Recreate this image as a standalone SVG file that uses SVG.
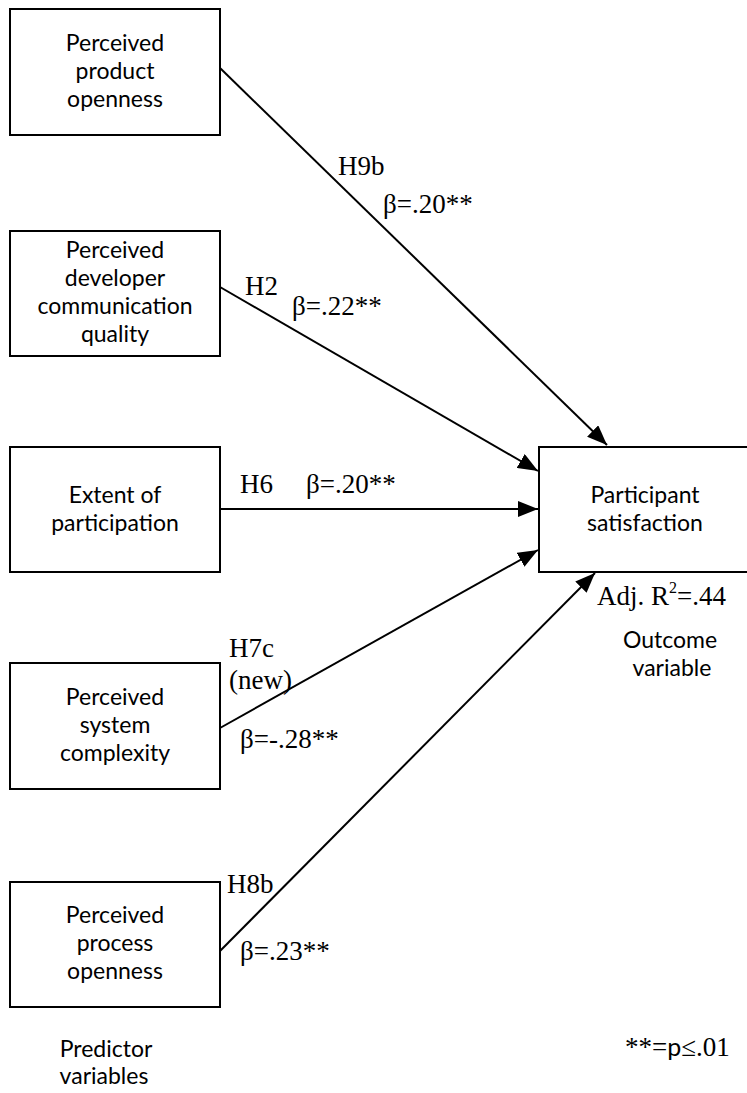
<svg xmlns="http://www.w3.org/2000/svg" width="747" height="1093" viewBox="0 0 747 1093">
  <style>
    .box { fill: #ffffff; stroke: #000000; stroke-width: 2; }
    .name { font-family: Lato, "Noto Sans", sans-serif; font-size: 23px; fill: #000000; text-anchor: middle; }
    .lbl { font-family: "Liberation Serif", "Times New Roman", serif; font-size: 27px; fill: #000000; }
    .edge { stroke: #000000; stroke-width: 2; fill: none; marker-end: url(#head); }
  </style>
  <defs>
    <marker id="head" markerUnits="userSpaceOnUse" markerWidth="20" markerHeight="16" refX="20" refY="8" orient="auto">
      <path d="M0,0 L20,8 L0,16 z" fill="#000000"/>
    </marker>
  </defs>
  <rect width="747" height="1093" fill="#ffffff"/>

  <!-- predictor boxes -->
  <g id="product-openness">
    <rect class="box" x="10" y="9" width="210" height="126"/>
    <text class="name" x="115" y="51">Perceived</text>
    <text class="name" x="115" y="79">product</text>
    <text class="name" x="115" y="107">openness</text>
  </g>
  <g id="developer-communication">
    <rect class="box" x="10" y="231" width="210" height="125"/>
    <text class="name" x="115" y="258">Perceived</text>
    <text class="name" x="115" y="286">developer</text>
    <text class="name" x="115" y="314">communication</text>
    <text class="name" x="115" y="342">quality</text>
  </g>
  <g id="participation">
    <rect class="box" x="10" y="447" width="210" height="125"/>
    <text class="name" x="115" y="503">Extent of</text>
    <text class="name" x="115" y="531">participation</text>
  </g>
  <g id="system-complexity">
    <rect class="box" x="10" y="663" width="210" height="126"/>
    <text class="name" x="115" y="705">Perceived</text>
    <text class="name" x="115" y="733">system</text>
    <text class="name" x="115" y="761">complexity</text>
  </g>
  <g id="process-openness">
    <rect class="box" x="10" y="882" width="210" height="125"/>
    <text class="name" x="115" y="923">Perceived</text>
    <text class="name" x="115" y="951">process</text>
    <text class="name" x="115" y="979">openness</text>
  </g>

  <!-- outcome box, its right side runs past the edge -->
  <g id="satisfaction">
    <rect class="box" x="539" y="447" width="230" height="125"/>
    <text class="name" x="645" y="503">Participant</text>
    <text class="name" x="645" y="531">satisfaction</text>
  </g>

  <!-- paths -->
  <g id="connectors">
    <line class="edge" x1="220" y1="68" x2="607" y2="445"/>
    <line class="edge" x1="220" y1="287" x2="538" y2="471"/>
    <line class="edge" x1="220" y1="509" x2="538" y2="509"/>
    <line class="edge" x1="220" y1="728" x2="538" y2="550"/>
    <line class="edge" x1="220" y1="951" x2="595" y2="573"/>
  </g>

  <!-- path labels -->
  <g id="labels">
    <text class="lbl" x="338" y="175">H9b</text>
    <text class="lbl" x="383" y="213">β=.20**</text>
    <text class="lbl" x="245" y="295">H2</text>
    <text class="lbl" x="292" y="315">β=.22**</text>
    <text class="lbl" x="240" y="493">H6</text>
    <text class="lbl" x="306" y="493">β=.20**</text>
    <text class="lbl" x="229" y="657">H7c</text>
    <text class="lbl" x="229" y="689">(new)</text>
    <text class="lbl" x="240" y="748">β=-.28**</text>
    <text class="lbl" x="227" y="893">H8b</text>
    <text class="lbl" x="240" y="960">β=.23**</text>
    <text class="lbl" x="597" y="605" font-size="28">Adj. R<tspan font-size="16" dy="-12">2</tspan><tspan dy="12">=.44</tspan></text>
    <text class="lbl" x="625" y="1056">**=<tspan font-family="Lato, sans-serif" font-size="25">p</tspan>≤.01</text>
  </g>

  <!-- captions -->
  <g id="captions">
    <text class="name" x="670" y="648">Outcome</text>
    <text class="name" x="672" y="676">variable</text>
    <text class="name" x="106" y="1057">Predictor</text>
    <text class="name" x="104" y="1084">variables</text>
  </g>
</svg>
